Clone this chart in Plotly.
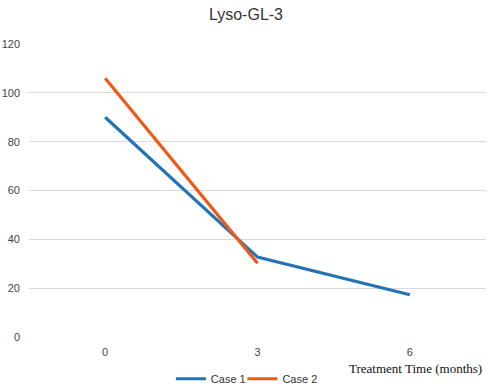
import plotly.graph_objects as go

categories = ["0", "3", "6"]
case1 = [90, 32.7, 17.3]
case2 = [106, 30.2]
y_ticks = [0, 20, 40, 60, 80, 100, 120]

fig = go.Figure()
fig.add_trace(go.Scatter(x=categories, y=case1, mode="lines", name="Case 1",
                         line=dict(color="#2473B9", width=3.2), legend="legend"))
fig.add_trace(go.Scatter(x=categories[:len(case2)], y=case2, mode="lines", name="Case 2",
                         line=dict(color="#EE5A16", width=3.2), legend="legend2"))

legend_common = dict(orientation="h", y=-0.093, yanchor="top", xanchor="left",
                     font=dict(size=11, color="#333333"), itemwidth=30,
                     bgcolor="rgba(0,0,0,0)")

fig.update_layout(
    width=489, height=390,
    paper_bgcolor="white", plot_bgcolor="white",
    margin=dict(l=29, r=3, t=44, b=53, autoexpand=False),
    font=dict(family="Liberation Sans, Arial, sans-serif", size=11, color="#555555"),
    title=dict(text="Lyso-GL-3", x=0.503, xanchor="center", y=0.962, yanchor="middle",
               font=dict(size=16, color="#333333")),
    xaxis=dict(type="category", range=[-0.5, 2.5], showgrid=False, zeroline=False,
               showline=False, ticks="", automargin=False, ticklabelstandoff=7,
               tickfont=dict(size=11, color="#444444")),
    yaxis=dict(range=[0, 120], tickvals=y_ticks, showgrid=True, gridcolor="#D9D9D9",
               gridwidth=1.2, zeroline=False, showline=False, ticks="", automargin=False,
               ticklabelstandoff=8, tickfont=dict(size=11, color="#444444")),
    showlegend=True,
    legend=dict(x=0.3104, **legend_common),
    legend2=dict(x=0.467, **legend_common),
    annotations=[dict(text="Treatment Time (months)", xref="paper", yref="paper",
                      x=0.995, xanchor="right", y=-0.075, yanchor="top", showarrow=False,
                      font=dict(family="Liberation Serif, Times New Roman, serif",
                                size=13, color="#111111"))],
)

fig.write_html("out.html", config={"displayModeBar": False},
               post_script="document.body.style.margin='0';document.body.style.overflow='hidden';")
